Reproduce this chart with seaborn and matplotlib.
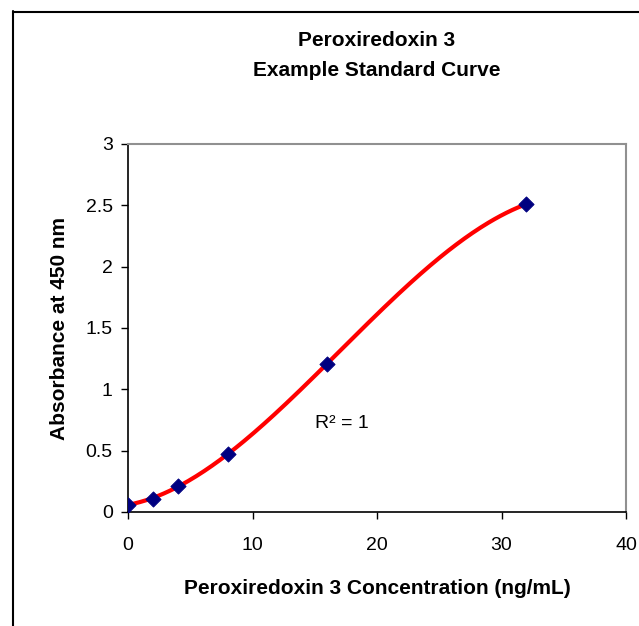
import numpy as np
import pandas as pd
import seaborn as sns
import matplotlib.pyplot as plt
from matplotlib.lines import Line2D

# Data
concentration = [0, 2, 4, 8, 16, 32]
absorbance = [0.06, 0.11, 0.21, 0.47, 1.21, 2.51]
x_ticks = [0, 10, 20, 30, 40]
y_ticks = [0, 0.5, 1, 1.5, 2, 2.5, 3]
y_tick_labels = ["0", "0.5", "1", "1.5", "2", "2.5", "3"]
title = "Peroxiredoxin 3\nExample Standard Curve"
x_label = "Peroxiredoxin 3 Concentration (ng/mL)"
y_label = "Absorbance at 450 nm"
r2_text = "R² = 1"

df = pd.DataFrame({"conc": concentration, "abs": absorbance})

# polynomial trendline (3rd order) from the data
coef = np.polyfit(df["conc"], df["abs"], 3)
xs = np.linspace(0, 32, 200)
trend = pd.DataFrame({"conc": xs, "abs": np.polyval(coef, xs)})

sns.set_theme(style="white")
plt.rcParams["font.family"] = ["Liberation Sans", "DejaVu Sans"]
plt.rcParams["text.color"] = "black"
plt.rcParams["axes.labelcolor"] = "black"

fig = plt.figure(figsize=(6.39, 6.26), dpi=100)
W, H = 639, 626
ax = fig.add_axes([128 / W, 1 - 512 / H, (626 - 128) / W, (512 - 144) / H])

sns.lineplot(data=trend, x="conc", y="abs", ax=ax, color="#ff0000", linewidth=3, zorder=2)
sns.scatterplot(data=df, x="conc", y="abs", ax=ax, marker="D", s=60, color="#000080",
                edgecolor="#000080", zorder=3)

ax.set_xlim(0, 40)
ax.set_ylim(0, 3)
ax.set_xticks(x_ticks)
ax.set_yticks(y_ticks)
ax.set_yticklabels(y_tick_labels)
ax.tick_params(axis="both", which="both", direction="out", length=5, width=1,
               labelsize=14, colors="black", labelcolor="black", pad=6, left=True, bottom=True)
ax.tick_params(axis="x", pad=13)

for side in ["left", "bottom"]:
    ax.spines[side].set_color("black")
    ax.spines[side].set_linewidth(1.2)
for side in ["top", "right"]:
    ax.spines[side].set_color("#909090")
    ax.spines[side].set_linewidth(1.5)

ax.set_xlabel(x_label, fontsize=15, fontweight="bold", labelpad=18, color="black")
ax.set_ylabel(y_label, fontsize=15, fontweight="bold", labelpad=12, color="black")
ax.set_title(title, fontsize=15, fontweight="bold", pad=49, linespacing=1.75, color="black")

ax.text(15.0, 0.72, r2_text, fontsize=14, ha="left", va="center", color="black")

# outer chart frame (left and top edges visible)
fig.add_artist(Line2D([12.5 / W, 12.5 / W], [0, 1 - 11 / H], color="black", lw=1.5,
                      transform=fig.transFigure))
fig.add_artist(Line2D([12.5 / W, 1], [1 - 11.5 / H, 1 - 11.5 / H], color="black", lw=1.5,
                      transform=fig.transFigure))

fig.savefig("out.png", dpi=100)
